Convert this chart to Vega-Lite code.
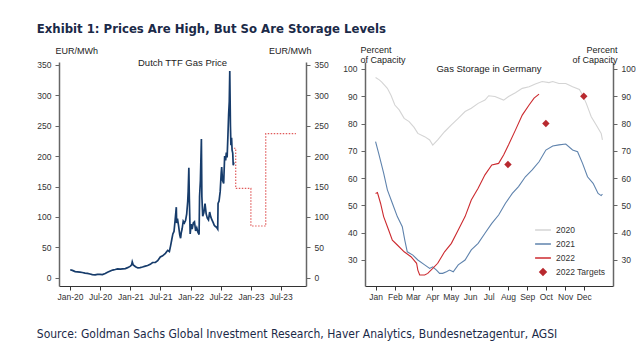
{
  "$schema": "https://vega.github.io/schema/vega-lite/v6.json",
  "background": "white",
  "padding": {"left": 36, "top": 23, "right": 2, "bottom": 5},
  "title": {"text": "Exhibit 1: Prices Are High, But So Are Storage Levels", "anchor": "start", "font": "DejaVu Sans Condensed", "fontSize": 13, "fontWeight": "bold", "color": "#1b2a48", "offset": 9, "frame": "bounds"},
  "config": {
    "view": {"stroke": null},
    "font": "Liberation Sans",
    "axis": {"labelFont": "Liberation Sans", "labelFontSize": 8.5, "labelColor": "#333", "titleFont": "Liberation Sans", "titleFontSize": 9, "titleFontWeight": "normal", "titleColor": "#222", "grid": false, "tickColor": "#666", "domainColor": "#666", "tickSize": 4, "labelOverlap": false, "labelSeparation": 0}
  },
  "datasets": {
    "ttf": [
      {"date":"2020-01-02","price":13},{"date":"2020-01-15","price":12},{"date":"2020-02-01","price":10},{"date":"2020-02-15","price":9.5},{"date":"2020-03-01","price":9},{"date":"2020-03-15","price":8.5},{"date":"2020-04-01","price":7.5},{"date":"2020-04-15","price":7},{"date":"2020-05-01","price":6},{"date":"2020-05-15","price":5},{"date":"2020-06-01","price":4.5},{"date":"2020-06-15","price":5.5},{"date":"2020-07-01","price":5.5},{"date":"2020-07-15","price":5},{"date":"2020-08-01","price":7},{"date":"2020-08-15","price":9},{"date":"2020-09-01","price":11},{"date":"2020-09-15","price":12.5},{"date":"2020-10-01","price":13.5},{"date":"2020-10-15","price":14.5},{"date":"2020-11-01","price":14},{"date":"2020-11-15","price":14.5},{"date":"2020-12-01","price":15},{"date":"2020-12-15","price":16.5},{"date":"2021-01-01","price":19},{"date":"2021-01-08","price":21},{"date":"2021-01-12","price":26},{"date":"2021-01-18","price":21},{"date":"2021-02-01","price":18},{"date":"2021-02-15","price":16},{"date":"2021-03-01","price":16.5},{"date":"2021-03-15","price":17.5},{"date":"2021-04-01","price":19},{"date":"2021-04-15","price":20},{"date":"2021-05-01","price":22},{"date":"2021-05-15","price":25},{"date":"2021-06-01","price":25},{"date":"2021-06-15","price":28},{"date":"2021-07-01","price":34},{"date":"2021-07-15","price":36},{"date":"2021-08-01","price":40},{"date":"2021-08-15","price":45},{"date":"2021-08-25","price":43},{"date":"2021-09-01","price":52},{"date":"2021-09-08","price":62},{"date":"2021-09-15","price":72},{"date":"2021-09-22","price":76},{"date":"2021-09-29","price":95},{"date":"2021-10-06","price":116},{"date":"2021-10-08","price":90},{"date":"2021-10-13","price":97},{"date":"2021-10-20","price":85},{"date":"2021-10-27","price":70},{"date":"2021-11-01","price":65},{"date":"2021-11-05","price":74},{"date":"2021-11-10","price":80},{"date":"2021-11-17","price":93},{"date":"2021-11-24","price":90},{"date":"2021-12-01","price":94},{"date":"2021-12-08","price":105},{"date":"2021-12-14","price":125},{"date":"2021-12-17","price":142},{"date":"2021-12-21","price":181},{"date":"2021-12-24","price":130},{"date":"2021-12-29","price":72},{"date":"2022-01-04","price":88},{"date":"2022-01-10","price":80},{"date":"2022-01-17","price":90},{"date":"2022-01-24","price":92},{"date":"2022-01-31","price":77},{"date":"2022-02-07","price":82},{"date":"2022-02-14","price":75},{"date":"2022-02-21","price":71},{"date":"2022-02-24","price":134},{"date":"2022-03-01","price":160},{"date":"2022-03-07","price":228},{"date":"2022-03-10","price":133},{"date":"2022-03-15","price":101},{"date":"2022-03-22","price":107},{"date":"2022-03-29","price":122},{"date":"2022-04-05","price":105},{"date":"2022-04-12","price":98},{"date":"2022-04-19","price":95},{"date":"2022-04-26","price":108},{"date":"2022-05-03","price":100},{"date":"2022-05-10","price":95},{"date":"2022-05-17","price":91},{"date":"2022-05-24","price":86},{"date":"2022-05-31","price":84},{"date":"2022-06-07","price":83},{"date":"2022-06-14","price":80},{"date":"2022-06-16","price":122},{"date":"2022-06-22","price":126},{"date":"2022-06-29","price":142},{"date":"2022-07-05","price":172},{"date":"2022-07-08","price":182},{"date":"2022-07-13","price":160},{"date":"2022-07-20","price":155},{"date":"2022-07-26","price":200},{"date":"2022-08-01","price":193},{"date":"2022-08-05","price":206},{"date":"2022-08-10","price":198},{"date":"2022-08-15","price":235},{"date":"2022-08-19","price":268},{"date":"2022-08-23","price":290},{"date":"2022-08-26","price":340},{"date":"2022-08-30","price":250},{"date":"2022-09-02","price":218},{"date":"2022-09-06","price":230},{"date":"2022-09-09","price":210},{"date":"2022-09-13","price":205},{"date":"2022-09-16","price":185},{"date":"2022-09-20","price":190}
    ],
    "fcst": [
      {"date":"2022-09-20","price":213},{"date":"2022-10-01","price":147},{"date":"2023-01-01","price":85},{"date":"2023-04-01","price":237},{"date":"2023-10-01","price":237}
    ],
    "storage": [
      {"series":"2020","date":"2000-01-01","pct":96.9},{"series":"2020","date":"2000-01-07","pct":96},{"series":"2020","date":"2000-01-11","pct":95.2},{"series":"2020","date":"2000-01-20","pct":92.9},{"series":"2020","date":"2000-01-26","pct":90.3},{"series":"2020","date":"2000-02-01","pct":86.8},{"series":"2020","date":"2000-02-08","pct":85},{"series":"2020","date":"2000-02-16","pct":81.9},{"series":"2020","date":"2000-02-24","pct":80.7},{"series":"2020","date":"2000-03-03","pct":78.6},{"series":"2020","date":"2000-03-09","pct":76.4},{"series":"2020","date":"2000-03-20","pct":75.2},{"series":"2020","date":"2000-03-28","pct":74},{"series":"2020","date":"2000-04-02","pct":72.1},{"series":"2020","date":"2000-04-10","pct":74},{"series":"2020","date":"2000-04-21","pct":77},{"series":"2020","date":"2000-05-02","pct":79.5},{"series":"2020","date":"2000-05-13","pct":81.9},{"series":"2020","date":"2000-05-24","pct":84.4},{"series":"2020","date":"2000-06-03","pct":85.6},{"series":"2020","date":"2000-06-14","pct":87.4},{"series":"2020","date":"2000-06-25","pct":88.6},{"series":"2020","date":"2000-07-01","pct":90.2},{"series":"2020","date":"2000-07-11","pct":89.9},{"series":"2020","date":"2000-07-25","pct":88.6},{"series":"2020","date":"2000-08-02","pct":89.9},{"series":"2020","date":"2000-08-13","pct":91.3},{"series":"2020","date":"2000-08-24","pct":92.9},{"series":"2020","date":"2000-09-04","pct":93.5},{"series":"2020","date":"2000-09-14","pct":94.5},{"series":"2020","date":"2000-09-25","pct":95.4},{"series":"2020","date":"2000-10-06","pct":95},{"series":"2020","date":"2000-10-12","pct":95.4},{"series":"2020","date":"2000-10-22","pct":94.7},{"series":"2020","date":"2000-11-02","pct":94.7},{"series":"2020","date":"2000-11-13","pct":93.5},{"series":"2020","date":"2000-11-24","pct":92.5},{"series":"2020","date":"2000-11-29","pct":90.5},{"series":"2020","date":"2000-12-05","pct":87.4},{"series":"2020","date":"2000-12-13","pct":82.5},{"series":"2020","date":"2000-12-21","pct":79.5},{"series":"2020","date":"2000-12-29","pct":76.4},{"series":"2020","date":"2000-12-31","pct":74},
      {"series":"2021","date":"2000-01-01","pct":73.4},{"series":"2021","date":"2000-01-06","pct":69.1},{"series":"2021","date":"2000-01-14","pct":61.8},{"series":"2021","date":"2000-01-20","pct":55.7},{"series":"2021","date":"2000-01-28","pct":50.8},{"series":"2021","date":"2000-02-05","pct":45.9},{"series":"2021","date":"2000-02-13","pct":42.2},{"series":"2021","date":"2000-02-17","pct":37.3},{"series":"2021","date":"2000-02-21","pct":33},{"series":"2021","date":"2000-03-01","pct":31.8},{"series":"2021","date":"2000-03-09","pct":30},{"series":"2021","date":"2000-03-20","pct":28.2},{"series":"2021","date":"2000-03-28","pct":26.9},{"series":"2021","date":"2000-04-02","pct":27.5},{"series":"2021","date":"2000-04-08","pct":26.3},{"series":"2021","date":"2000-04-13","pct":25.1},{"series":"2021","date":"2000-04-18","pct":25.1},{"series":"2021","date":"2000-04-24","pct":25.7},{"series":"2021","date":"2000-04-29","pct":26.3},{"series":"2021","date":"2000-05-05","pct":25.7},{"series":"2021","date":"2000-05-13","pct":28.2},{"series":"2021","date":"2000-05-24","pct":30},{"series":"2021","date":"2000-06-03","pct":33.7},{"series":"2021","date":"2000-06-14","pct":36.1},{"series":"2021","date":"2000-06-25","pct":39.8},{"series":"2021","date":"2000-07-06","pct":43.4},{"series":"2021","date":"2000-07-17","pct":46.5},{"series":"2021","date":"2000-07-28","pct":50.8},{"series":"2021","date":"2000-08-08","pct":54.4},{"series":"2021","date":"2000-08-18","pct":56.9},{"series":"2021","date":"2000-08-29","pct":60.5},{"series":"2021","date":"2000-09-09","pct":63},{"series":"2021","date":"2000-09-20","pct":66},{"series":"2021","date":"2000-10-01","pct":70.3},{"series":"2021","date":"2000-10-12","pct":71.8},{"series":"2021","date":"2000-10-22","pct":72.2},{"series":"2021","date":"2000-11-02","pct":72.5},{"series":"2021","date":"2000-11-13","pct":70.3},{"series":"2021","date":"2000-11-21","pct":69.7},{"series":"2021","date":"2000-11-29","pct":65.4},{"series":"2021","date":"2000-12-07","pct":60.5},{"series":"2021","date":"2000-12-16","pct":58.1},{"series":"2021","date":"2000-12-24","pct":54.4},{"series":"2021","date":"2000-12-29","pct":53.6},{"series":"2021","date":"2000-12-31","pct":54.2},
      {"series":"2022","date":"2000-01-01","pct":54.4},{"series":"2022","date":"2000-01-04","pct":54.7},{"series":"2022","date":"2000-01-09","pct":50.8},{"series":"2022","date":"2000-01-14","pct":45.9},{"series":"2022","date":"2000-01-22","pct":41},{"series":"2022","date":"2000-01-28","pct":37.3},{"series":"2022","date":"2000-02-05","pct":35.5},{"series":"2022","date":"2000-02-16","pct":33},{"series":"2022","date":"2000-02-27","pct":31.2},{"series":"2022","date":"2000-03-07","pct":28.8},{"series":"2022","date":"2000-03-09","pct":26.3},{"series":"2022","date":"2000-03-12","pct":24.5},{"series":"2022","date":"2000-03-20","pct":24.5},{"series":"2022","date":"2000-03-25","pct":25.1},{"series":"2022","date":"2000-04-02","pct":26.9},{"series":"2022","date":"2000-04-10","pct":28.8},{"series":"2022","date":"2000-04-21","pct":33},{"series":"2022","date":"2000-05-02","pct":36.1},{"series":"2022","date":"2000-05-13","pct":41},{"series":"2022","date":"2000-05-24","pct":45.9},{"series":"2022","date":"2000-06-03","pct":52},{"series":"2022","date":"2000-06-14","pct":56.3},{"series":"2022","date":"2000-06-25","pct":61.2},{"series":"2022","date":"2000-07-06","pct":64.8},{"series":"2022","date":"2000-07-17","pct":65.4},{"series":"2022","date":"2000-07-25","pct":68.5},{"series":"2022","date":"2000-08-02","pct":72.2},{"series":"2022","date":"2000-08-13","pct":77.6},{"series":"2022","date":"2000-08-24","pct":83.1},{"series":"2022","date":"2000-09-04","pct":86.8},{"series":"2022","date":"2000-09-12","pct":89.3},{"series":"2022","date":"2000-09-20","pct":90.8}
    ],
    "targets": [
      {"series":"2022 Targets","date":"2000-08-01","pct":65},{"series":"2022 Targets","date":"2000-10-01","pct":80},{"series":"2022 Targets","date":"2000-12-01","pct":90}
    ]
  },
  "vconcat": [
    {
      "title": {"text": "Source: Goldman Sachs Global Investment Research, Haver Analytics, Bundesnetzagentur, AGSI", "orient": "bottom", "anchor": "start", "font": "DejaVu Sans Condensed", "fontSize": 12, "fontWeight": "normal", "color": "#1b2a48", "offset": 28, "frame": "bounds"},
      "spacing": 13,
      "resolve": {"scale": {"color": "independent"}, "legend": {"color": "independent"}},
      "hconcat": [
        {
          "width": 247, "height": 224,
          "title": {"text": "Dutch TTF Gas Price", "font": "Liberation Sans", "fontSize": 9.5, "fontWeight": "normal", "color": "#222", "offset": -21, "anchor": "middle", "frame": "group"},
          "layer": [
            {
              "data": {"name": "ttf"},
              "mark": {"type": "line", "color": "#173c6b", "strokeWidth": 1.7},
              "encoding": {
                "x": {"field": "date", "type": "temporal", "scale": {"type": "utc", "domain": [1572048000000, 1701388800000]},
                  "axis": {"title": null, "values": [1577836800000, 1593561600000, 1609459200000, 1625097600000, 1640995200000, 1656633600000, 1672531200000, 1688169600000], "tickCount": 30, "format": "%b-%y", "labelFlush": false, "labelOverlap": false, "labelSeparation": 0, "domainColor": "#333", "tickColor": "#333", "labelPadding": 2}},
                "y": {"field": "price", "type": "quantitative", "scale": {"domain": [-13.7, 354.9], "nice": false, "zero": false},
                  "axis": {"orient": "left", "values": [0,50,100,150,200,250,300,350], "tickCount": 30, "title": "EUR/MWh", "titleAngle": 0, "titleAlign": "left", "titleBaseline": "middle", "titleX": -4, "titleY": -12, "domainWidth": 1.5, "labelPadding": 4}}
              }
            },
            {
              "data": {"name": "fcst"},
              "mark": {"type": "line", "interpolate": "step-after", "color": "#e05a5a", "strokeWidth": 1.2, "strokeDash": [1.5, 1.5]},
              "encoding": {
                "x": {"field": "date", "type": "temporal", "axis": {"title": null, "labelOverlap": false, "tickCount": 30}},
                "y": {"field": "price", "type": "quantitative", "scale": {"domain": [-13.7, 354.9], "nice": false, "zero": false},
                  "axis": {"orient": "right", "values": [0,50,100,150,200,250,300,350], "tickCount": 30, "title": "EUR/MWh", "titleAngle": 0, "titleAlign": "right", "titleBaseline": "middle", "titleX": 5, "titleY": -12, "domainWidth": 1.5, "labelPadding": 4}}
              }
            }
          ],
          "resolve": {"scale": {"y": "independent"}}
        },
        {
          "width": 248, "height": 224,
          "title": {"text": "Gas Storage in Germany", "font": "Liberation Sans", "fontSize": 9.5, "fontWeight": "normal", "color": "#222", "offset": -28, "anchor": "middle", "frame": "group"},
          "layer": [
            {
              "data": {"name": "storage"},
              "mark": {"type": "line"},
              "encoding": {
                "x": {"field": "date", "type": "temporal", "scale": {"type": "utc", "domain": [945216000000, 979689600000]},
                  "axis": {"title": null, "values": [946684800000, 949363200000, 951868800000, 954547200000, 957139200000, 959817600000, 962409600000, 965088000000, 967766400000, 970358400000, 973036800000, 975628800000], "tickCount": 30, "format": "%b", "labelFlush": false, "labelOverlap": false, "labelSeparation": 0, "domainColor": "#333", "tickColor": "#333", "labelPadding": 2}},
                "y": {"field": "pct", "type": "quantitative", "scale": {"domain": [20.47, 102.56], "nice": false, "zero": false},
                  "axis": {"orient": "left", "values": [30,40,50,60,70,80,90,100], "tickCount": 30, "title": ["Percent", "of Capacity"], "titleAngle": 0, "titleAlign": "left", "titleBaseline": "bottom", "titleX": -5, "titleY": -8, "titleLineHeight": 10, "domainWidth": 1.5, "labelPadding": 4}},
                "color": {"field": "series", "type": "nominal", "scale": {"domain": ["2020", "2021", "2022", "2022 Targets"], "range": ["#d4d4d4", "#5f83ad", "#cc2a2f", "#b8292f"]},
                  "legend": {"title": null, "orient": "bottom-right", "offset": 7, "labelFont": "Liberation Sans", "labelFontSize": 8.5, "labelColor": "#333", "rowPadding": 0, "symbolSize": 20, "symbolStrokeWidth": 1.5,
                    "encode": {"symbols": {"update": {"stroke": {"scale": "color", "field": "value"}, "fill": {"signal": "datum.value === '2022 Targets' ? scale('color', datum.value) : 'transparent'"}, "shape": {"signal": "datum.value === '2022 Targets' ? 'diamond' : 'stroke'"}, "size": {"signal": "datum.value === '2022 Targets' ? 40 : 250"}}}}}},
                "strokeWidth": {"field": "series", "type": "nominal", "scale": {"domain": ["2020", "2021", "2022"], "range": [1.1, 1.1, 1.8]}, "legend": null}
              }
            },
            {
              "data": {"name": "targets"},
              "mark": {"type": "point", "shape": "diamond", "filled": true, "opacity": 1, "size": 55},
              "encoding": {
                "x": {"field": "date", "type": "temporal", "axis": {"title": null, "labelOverlap": false, "tickCount": 30}},
                "y": {"field": "pct", "type": "quantitative", "scale": {"domain": [20.47, 102.56], "nice": false, "zero": false},
                  "axis": {"orient": "right", "values": [30,40,50,60,70,80,90,100], "tickCount": 30, "title": ["Percent", "of Capacity"], "titleAngle": 0, "titleAlign": "right", "titleBaseline": "bottom", "titleX": 4, "titleY": -8, "titleLineHeight": 10, "domainWidth": 1.5, "labelPadding": 4}},
                "color": {"field": "series", "type": "nominal"}
              }
            }
          ],
          "resolve": {"scale": {"y": "independent"}}
        }
      ]
    }
  ]
}
